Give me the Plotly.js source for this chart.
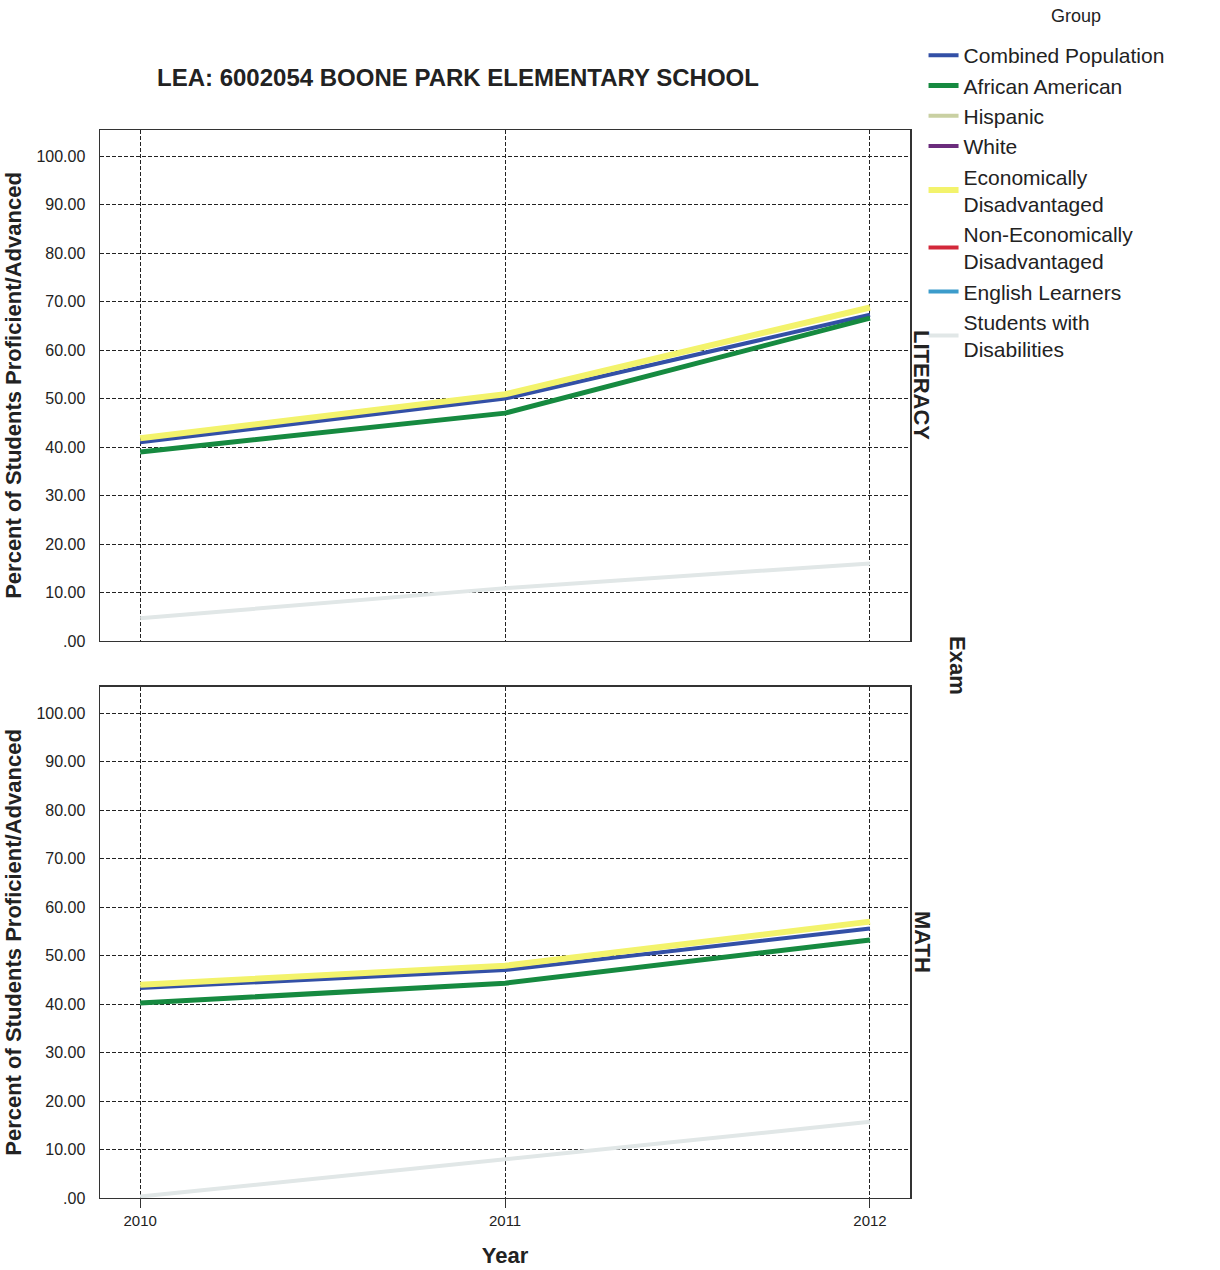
<!DOCTYPE html>
<html>
<head>
<meta charset="utf-8">
<script src="https://cdn.plot.ly/plotly-3.0.1.min.js"></script>
<style>body{margin:0;background:#fff}#chart{width:1220px;height:1270px}</style>
</head>
<body>
<div id="chart"></div>
<script>
const years = [2010, 2011, 2012];
const groups = ["Combined Population", "African American", "Hispanic", "White",
  "Economically<br>Disadvantaged", "Non-Economically<br>Disadvantaged", "English Learners",
  "Students with<br>Disabilities"];
const colors = ["#3350a6", "#168a40", "#c9d0a2", "#6b2c7c", "#f3f36c", "#d3283a", "#3c9ccb", "#e1e7e7"];
const widths = [4, 5, 4, 4, 6, 4, 4, 4];

// Literacy values by group (null = not shown)
const literacyCombined = [41.0, 50.0, 67.3];
const literacyAfricanAmerican = [39.0, 47.0, 66.6];
const literacyHispanic = [null, null, null];
const literacyWhite = [null, null, null];
const literacyEconDis = [41.8, 50.9, 68.8];
const literacyNonEconDis = [null, null, null];
const literacyEnglishLearners = [null, null, null];
const literacySWD = [4.7, 10.9, 16.0];

// Math values by group
const mathCombined = [43.3, 47.0, 55.6];
const mathAfricanAmerican = [40.2, 44.3, 53.2];
const mathHispanic = [null, null, null];
const mathWhite = [null, null, null];
const mathEconDis = [44.0, 47.9, 57.0];
const mathNonEconDis = [null, null, null];
const mathEnglishLearners = [null, null, null];
const mathSWD = [0.3, 7.9, 15.7];

const literacy = [literacyCombined, literacyAfricanAmerican, literacyHispanic, literacyWhite,
  literacyEconDis, literacyNonEconDis, literacyEnglishLearners, literacySWD];
const math = [mathCombined, mathAfricanAmerican, mathHispanic, mathWhite,
  mathEconDis, mathNonEconDis, mathEnglishLearners, mathSWD];

const yTickVals = [0, 10, 20, 30, 40, 50, 60, 70, 80, 90, 100];
const yTickText = [".00", "10.00", "20.00", "30.00", "40.00", "50.00", "60.00", "70.00", "80.00", "90.00", "100.00"];

const traces = [];
groups.forEach((g, i) => {
  traces.push({x: years, y: literacy[i], xaxis: 'x', yaxis: 'y', type: 'scatter', mode: 'lines',
    name: g, legendgroup: 'g' + i, showlegend: true,
    line: {color: colors[i], width: widths[i]}, hoverinfo: 'skip'});
  traces.push({x: years, y: math[i], xaxis: 'x2', yaxis: 'y2', type: 'scatter', mode: 'lines',
    name: g, legendgroup: 'g' + i, showlegend: false,
    line: {color: colors[i], width: widths[i]}, hoverinfo: 'skip'});
});

const font = {family: 'Liberation Sans, Arial, sans-serif', color: '#222'};
const gridDash = '4px,2px';
const yax = (dom, anchor) => ({
  domain: dom, anchor: anchor, range: [0, 105.4],
  tickvals: yTickVals, ticktext: yTickText, tickfont: {size: 16, color: '#222'},
  ticks: '', ticklabelstandoff: 10,
  showgrid: true, gridcolor: '#222', griddash: gridDash, gridwidth: 1,
  showline: true, mirror: true, linecolor: '#333', linewidth: 1.5, zeroline: false,
  title: {text: '<b>Percent of Students Proficient/Advanced</b>', font: {size: 22, color: '#222'}, standoff: 8}
});
const xax = (dom, anchor, showLabels) => ({
  domain: dom, anchor: anchor, range: [2009.89, 2012.11],
  tickvals: years, ticktext: years.map(String), showticklabels: showLabels,
  tickfont: {size: 15, color: '#222'}, ticks: showLabels ? 'outside' : '', ticklen: 9, tickcolor: '#333',
  showgrid: true, gridcolor: '#222', griddash: gridDash, gridwidth: 1,
  showline: true, mirror: true, linecolor: '#333', linewidth: 1.5, zeroline: false
});

const layout = {
  width: 1220, height: 1270,
  margin: {l: 0, r: 0, t: 0, b: 0},
  paper_bgcolor: '#fff', plot_bgcolor: '#fff',
  font: font,
  showlegend: true,
  xaxis: xax([0.082, 0.746], 'y', false),
  yaxis: yax([0.4953, 0.8976], 'x'),
  xaxis2: Object.assign(xax([0.082, 0.746], 'y2', true),
    {title: {text: '<b>Year</b>', font: {size: 22, color: '#222'}, standoff: 19}}),
  yaxis2: yax([0.0567, 0.4591], 'x2'),
  legend: {
    x: 0.757, y: 1 - 35 / 1270, xanchor: 'left', yanchor: 'top',
    font: {size: 21, color: '#222'},
    tracegroupgap: 0, itemwidth: 30, bgcolor: 'rgba(0,0,0,0)'
  },
  annotations: [
    {text: 'Group', xref: 'paper', yref: 'paper', x: 1076 / 1220, y: 1 - 16 / 1270,
      xanchor: 'center', yanchor: 'middle', showarrow: false, font: {size: 18, color: '#222'}},
    {text: '<b>LEA: 6002054 BOONE PARK ELEMENTARY SCHOOL</b>', xref: 'paper', yref: 'paper',
      x: 458 / 1220, y: 1 - 78 / 1270, xanchor: 'center', yanchor: 'middle', showarrow: false,
      font: {size: 24, color: '#222'}},
    {text: '<b>LITERACY</b>', xref: 'paper', yref: 'paper', x: 922 / 1220, y: 1 - 385 / 1270,
      xanchor: 'center', yanchor: 'middle', textangle: 90, showarrow: false, font: {size: 22, color: '#222'}},
    {text: '<b>MATH</b>', xref: 'paper', yref: 'paper', x: 922 / 1220, y: 1 - 942 / 1270,
      xanchor: 'center', yanchor: 'middle', textangle: 90, showarrow: false, font: {size: 22, color: '#222'}},
    {text: '<b>Exam</b>', xref: 'paper', yref: 'paper', x: 958 / 1220, y: 1 - 665 / 1270,
      xanchor: 'center', yanchor: 'middle', textangle: 90, showarrow: false, font: {size: 22, color: '#222'}}
  ]
};

Plotly.newPlot('chart', traces, layout, {staticPlot: true, displayModeBar: false});
</script>
</body>
</html>
